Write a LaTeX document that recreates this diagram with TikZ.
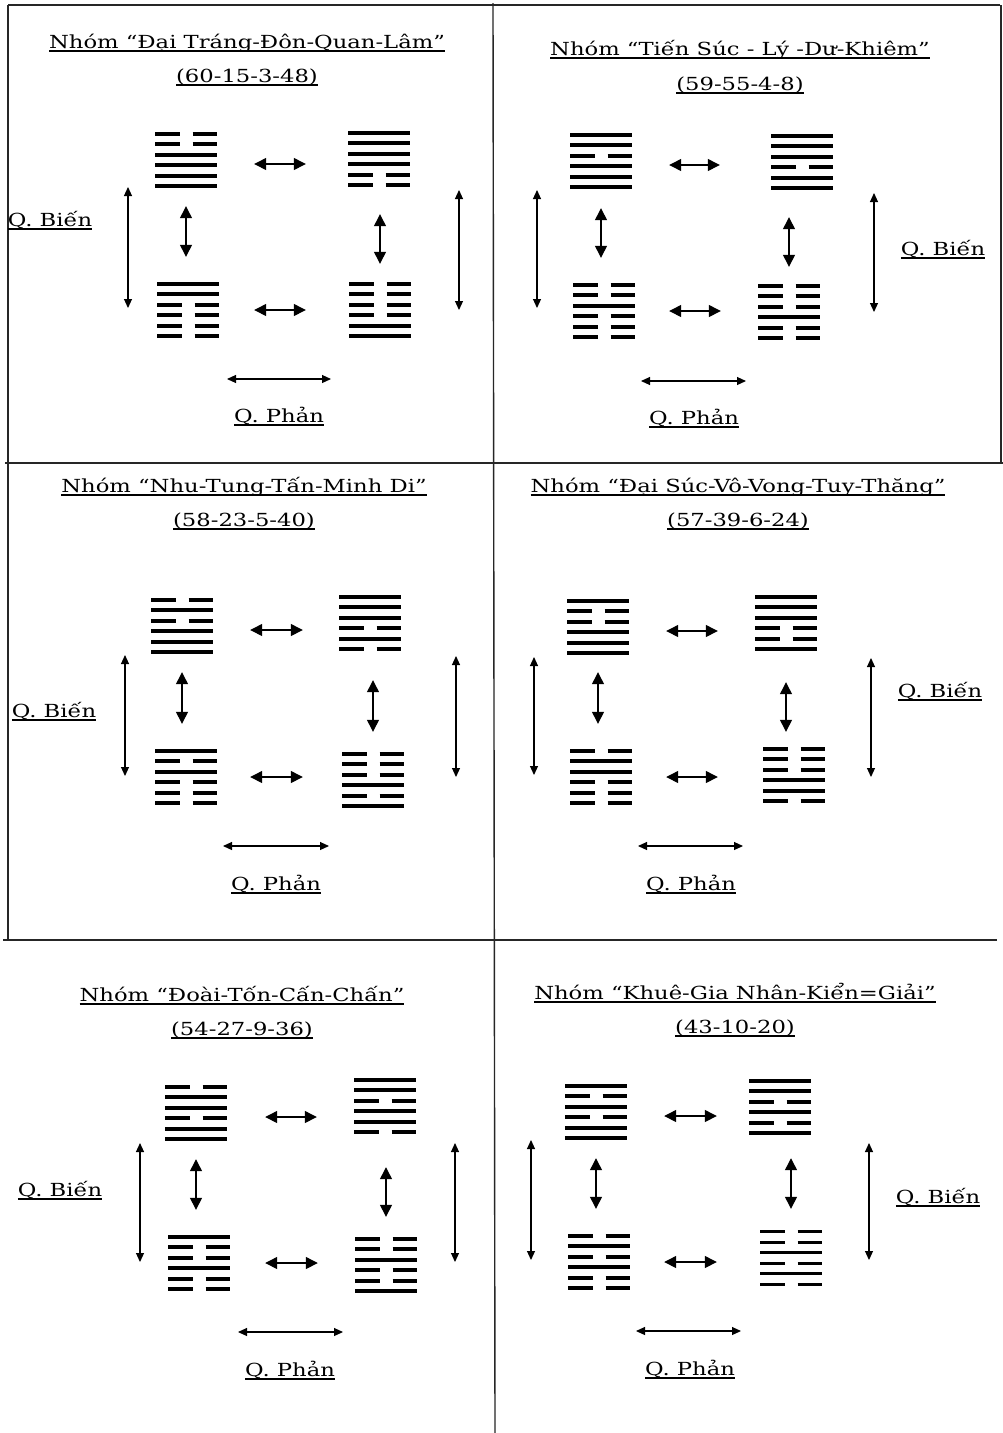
\documentclass[tikz,border=0pt]{standalone}
\usepackage{fontspec}
\setmainfont[FakeStretch=1.26]{DejaVu Serif}
\usetikzlibrary{arrows.meta}
\newcommand\ul[1]{\setbox0\hbox{#1}\rlap{\rule[-3.5pt]{\wd0}{1.3pt}}\box0}
\tikzset{
 hexbox/.style={minimum width=62pt, minimum height=56pt, inner sep=0pt},
 hexline/.style={line width=4pt, line cap=butt, black},
 inarrow/.style={line width=1.3pt, {Triangle[length=12pt,width=12pt]}-{Triangle[length=12pt,width=12pt]}},
 outarrow/.style={line width=1.1pt, {Triangle[length=9pt,width=8pt]}-{Triangle[length=9pt,width=8pt]}},
 titletext/.style={font=\fontsize{18}{22}\selectfont, anchor=base, inner sep=0pt},
 lbl/.style={font=\fontsize{18}{22}\selectfont, anchor=base, inner sep=0pt},
 gridline/.style={line width=1.4pt, black!85},
}
\newcommand\hexg[4]{%
 \node[hexbox] (#1) at (#2,#3) {};
 \foreach \b [count=\i from 0] in {#4} {%
   \pgfmathsetmacro\yy{#3-26.25+\i*10.5}%
   \ifnum\b=1
     \draw[hexline] (#2-31,\yy) -- (#2+31,\yy);%
   \else
     \draw[hexline] (#2-31,\yy) -- (#2-6.5,\yy) (#2+6.5,\yy) -- (#2+31,\yy);%
   \fi
 }}
% horizontal arrows: top row (shifted slightly down) and bottom row
\newcommand\toparrow[4]{\draw[inarrow, shorten <=#3pt, shorten >=#4pt] ([yshift=-4pt]#1.east) -- ([yshift=-4pt]#1.east -| #2.west);}
\newcommand\botarrow[4]{\draw[inarrow, shorten <=#3pt, shorten >=#4pt] (#1.east) -- (#1.east -| #2.west);}
\begin{document}
\begin{tikzpicture}[x=1pt,y=-1pt]
\useasboundingbox[fill=white] (0,0) rectangle (1003,1433);
% frame
\draw[gridline] (493,3) -- (495,1433);
\draw[gridline] (5,463) -- (1003,463);
\draw[gridline] (3,940) -- (997,940);
\draw[gridline] (8,5) -- (8,940);
\draw[gridline] (8,5) -- (1000,5);
\draw[gridline] (1001,5) -- (1001,463);

% ---------- Panel 1 ----------
\node[titletext] (t1) at (247,48) {\ul{Nhóm “Đại Tráng-Đôn-Quan-Lâm”}};
\node[titletext] (n1) at (247,82) {\ul{(60-15-3-48)}};
\hexg{p1a}{186}{160}{0,0,1,1,1,1}
\hexg{p1b}{379}{159}{1,1,1,1,0,0}
\hexg{p1c}{188}{310}{1,1,0,0,0,0}
\hexg{p1d}{380}{310}{0,0,0,0,1,1}
\toparrow{p1a}{p1b}{37}{42}
\botarrow{p1c}{p1d}{35}{43}
\draw[inarrow, shorten <=18pt, shorten >=25pt] (p1a.south) -- (p1a.south |- p1c.north);
\draw[inarrow, shorten <=27pt, shorten >=18pt] (p1d.north |- p1b.south) -- (p1d.north);
\coordinate (p1l1) at (128,187); \coordinate (p1l2) at (128,308);
\coordinate (p1r1) at (459,190); \coordinate (p1r2) at (459,310);
\coordinate (p1h1) at (227,379); \coordinate (p1h2) at (331,379);
\draw[outarrow] (p1l1) -- (p1l2);
\draw[outarrow] (p1r1) -- (p1r2);
\draw[outarrow] (p1h1) -- (p1h2);
\node[lbl] (b1) at (50,226) {\ul{Q. Biến}};
\node[lbl] (f1) at (279,422) {\ul{Q. Phản}};

% ---------- Panel 2 ----------
\node[titletext] (t2) at (740,55) {\ul{Nhóm “Tiến Súc - Lý -Dư-Khiêm”}};
\node[titletext] (n2) at (740,90) {\ul{(59-55-4-8)}};
\hexg{p2a}{601}{161}{1,1,0,1,1,1}
\hexg{p2b}{802}{162}{1,1,1,0,1,1}
\hexg{p2c}{604}{311}{0,0,1,0,0,0}
\hexg{p2d}{789}{312}{0,0,0,1,0,0}
\toparrow{p2a}{p2b}{37}{51}
\botarrow{p2c}{p2d}{34}{37}
\draw[inarrow, shorten <=19pt, shorten >=25pt] (p2a.south) -- (p2a.south |- p2c.north);
\draw[inarrow, shorten <=27pt, shorten >=17pt] (p2d.north |- p2b.south) -- (p2d.north);
\coordinate (p2l1) at (537,190); \coordinate (p2l2) at (537,308);
\coordinate (p2r1) at (874,193); \coordinate (p2r2) at (874,312);
\coordinate (p2h1) at (641,381); \coordinate (p2h2) at (746,381);
\draw[outarrow] (p2l1) -- (p2l2);
\draw[outarrow] (p2r1) -- (p2r2);
\draw[outarrow] (p2h1) -- (p2h2);
\node[lbl] (b2) at (943,255) {\ul{Q. Biến}};
\node[lbl] (f2) at (694,424) {\ul{Q. Phản}};

% ---------- Panel 3 ----------
\node[titletext] (t3) at (244,492) {\ul{Nhóm “Nhu-Tung-Tấn-Minh Di”}};
\node[titletext] (n3) at (244,526) {\ul{(58-23-5-40)}};
\hexg{p3a}{182}{626}{0,1,0,1,1,1}
\hexg{p3b}{370}{623}{1,1,1,0,1,0}
\hexg{p3c}{186}{777}{1,0,1,0,0,0}
\hexg{p3d}{373}{780}{0,0,0,1,0,1}
\toparrow{p3a}{p3b}{37}{36}
\botarrow{p3c}{p3d}{33}{39}
\draw[inarrow, shorten <=18pt, shorten >=25pt] (p3a.south) -- (p3a.south |- p3c.north);
\draw[inarrow, shorten <=29pt, shorten >=20pt] (p3d.north |- p3b.south) -- (p3d.north);
\coordinate (p3l1) at (125,655); \coordinate (p3l2) at (125,776);
\coordinate (p3r1) at (456,656); \coordinate (p3r2) at (456,777);
\coordinate (p3h1) at (223,846); \coordinate (p3h2) at (329,846);
\draw[outarrow] (p3l1) -- (p3l2);
\draw[outarrow] (p3r1) -- (p3r2);
\draw[outarrow] (p3h1) -- (p3h2);
\node[lbl] (b3) at (54,717) {\ul{Q. Biến}};
\node[lbl] (f3) at (276,890) {\ul{Q. Phản}};

% ---------- Panel 4 ----------
\node[titletext] (t4) at (738,492) {\ul{Nhóm “Đại Súc-Vô-Vong-Tuy-Thăng”}};
\node[titletext] (n4) at (738,526) {\ul{(57-39-6-24)}};
\hexg{p4a}{598}{627}{1,0,0,1,1,1}
\hexg{p4b}{786}{623}{1,1,1,0,0,1}
\hexg{p4c}{601}{777}{0,1,1,0,0,0}
\hexg{p4d}{794}{775}{0,0,0,1,1,0}
\toparrow{p4a}{p4b}{37}{37}
\botarrow{p4c}{p4d}{34}{45}
\draw[inarrow, shorten <=17pt, shorten >=25pt] (p4a.south) -- (p4a.south |- p4c.north);
\draw[inarrow, shorten <=31pt, shorten >=15pt] (p4b.south) -- (p4b.south |- p4d.north);
\coordinate (p4l1) at (534,657); \coordinate (p4l2) at (534,775);
\coordinate (p4r1) at (871,658); \coordinate (p4r2) at (871,777);
\coordinate (p4h1) at (638,846); \coordinate (p4h2) at (743,846);
\draw[outarrow] (p4l1) -- (p4l2);
\draw[outarrow] (p4r1) -- (p4r2);
\draw[outarrow] (p4h1) -- (p4h2);
\node[lbl] (b4) at (940,697) {\ul{Q. Biến}};
\node[lbl] (f4) at (691,890) {\ul{Q. Phản}};

% ---------- Panel 5 ----------
\node[titletext] (t5) at (242,1001) {\ul{Nhóm “Đoài-Tốn-Cấn-Chấn”}};
\node[titletext] (n5) at (242,1035) {\ul{(54-27-9-36)}};
\hexg{p5a}{196}{1113}{0,1,1,0,1,1}
\hexg{p5b}{385}{1106}{1,1,0,1,1,0}
\hexg{p5c}{199}{1263}{1,0,0,1,0,0}
\hexg{p5d}{386}{1265}{0,0,1,0,0,1}
\toparrow{p5a}{p5b}{38}{37}
\botarrow{p5c}{p5d}{35}{37}
\draw[inarrow, shorten <=18pt, shorten >=25pt] (p5a.south) -- (p5a.south |- p5c.north);
\draw[inarrow, shorten <=33pt, shorten >=20pt] (p5d.north |- p5b.south) -- (p5d.north);
\coordinate (p5l1) at (140,1143); \coordinate (p5l2) at (140,1262);
\coordinate (p5r1) at (455,1143); \coordinate (p5r2) at (455,1262);
\coordinate (p5h1) at (238,1332); \coordinate (p5h2) at (343,1332);
\draw[outarrow] (p5l1) -- (p5l2);
\draw[outarrow] (p5r1) -- (p5r2);
\draw[outarrow] (p5h1) -- (p5h2);
\node[lbl] (b5) at (60,1196) {\ul{Q. Biến}};
\node[lbl] (f5) at (290,1376) {\ul{Q. Phản}};

% ---------- Panel 6 ----------
\node[titletext] (t6) at (735,999) {\ul{Nhóm “Khuê-Gia Nhân-Kiển=Giải”}};
\node[titletext] (n6) at (735,1033) {\ul{(43-10-20)}};
\hexg{p6a}{596}{1112}{1,0,1,0,1,1}
\hexg{p6b}{780}{1107}{1,1,0,1,0,1}
\hexg{p6c}{599}{1262}{0,1,0,1,0,0}
\begin{scope}[hexline/.append style={line width=2.6pt}]
\hexg{p6d}{791}{1258}{0,0,1,0,1,0}
\end{scope}
\toparrow{p6a}{p6b}{37}{32}
\botarrow{p6c}{p6d}{34}{43}
\draw[inarrow, shorten <=18pt, shorten >=25pt] (p6a.south) -- (p6a.south |- p6c.north);
\draw[inarrow, shorten <=23pt, shorten >=21pt] (p6d.north |- p6b.south) -- (p6d.north);
\coordinate (p6l1) at (531,1140); \coordinate (p6l2) at (531,1260);
\coordinate (p6r1) at (869,1143); \coordinate (p6r2) at (869,1260);
\coordinate (p6h1) at (636,1331); \coordinate (p6h2) at (741,1331);
\draw[outarrow] (p6l1) -- (p6l2);
\draw[outarrow] (p6r1) -- (p6r2);
\draw[outarrow] (p6h1) -- (p6h2);
\node[lbl] (b6) at (938,1203) {\ul{Q. Biến}};
\node[lbl] (f6) at (690,1375) {\ul{Q. Phản}};
\end{tikzpicture}
\end{document}
